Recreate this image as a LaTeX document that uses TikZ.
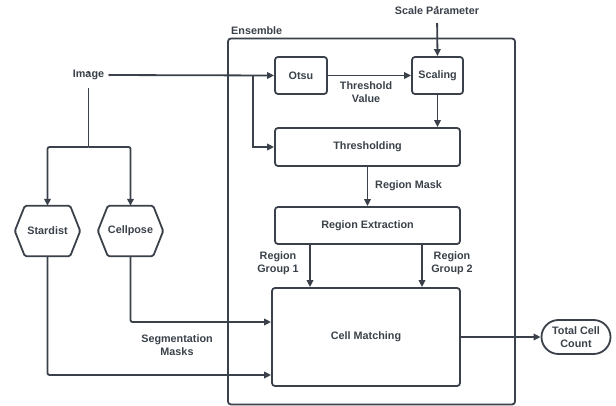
\documentclass[tikz,border=0pt]{standalone}
\usepackage{fontspec}
\setmainfont{Liberation Sans}
\usetikzlibrary{arrows.meta,calc}
\definecolor{ink}{HTML}{3A414A}
\begin{document}
\begin{tikzpicture}[x=1pt,y=-1pt,
  font=\fontsize{10.8}{13}\selectfont\bfseries, text=ink,
  box/.style={draw=ink, line width=1.8pt, rounded corners=3pt, align=center, inner sep=0pt},
  conn/.style={draw=ink, line width=1.8pt, -{Triangle[length=7pt,width=6.5pt]}},
  plain/.style={draw=ink, line width=1.8pt},
  lbl/.style={align=center, inner sep=0pt}]
\useasboundingbox (0,0) rectangle (616,406);

% container
\node[box, minimum width=287pt, minimum height=366pt] (ens) at (371.5,221.5) {};
\node[lbl, anchor=south west] (enslbl) at (231,35) {Ensemble};

% boxes
\node[box, minimum width=52pt, minimum height=37pt] (otsu) at (301,75.5) {Otsu};
\node[box, minimum width=51pt, minimum height=37pt] (scal) at (437.5,75.5) {Scaling};
\node[box, minimum width=185pt, minimum height=38pt] (thr) at (367.5,147) {Thresholding};
\node[box, minimum width=185pt, minimum height=37pt] (rex) at (367.5,225.5) {Region Extraction};
\node[box, minimum width=188pt, minimum height=98pt] (cm) at (366,337) {Cell Matching};
\node[box, rounded corners=17pt, minimum width=69pt, minimum height=34pt] (tcc) at (576,337) {Total Cell\\Count};

% hexagons
\node[minimum width=65pt, minimum height=50pt, inner sep=0pt] (sd) at (47.5,231) {Stardist};
\node[minimum width=65pt, minimum height=50pt, inner sep=0pt] (cp) at (130.5,231) {Cellpose};
\foreach \h in {sd,cp}{
  \draw[plain, rounded corners=1.5pt] (\h.west) -- ([xshift=10pt]\h.north west) -- ([xshift=-10pt]\h.north east)
    -- (\h.east) -- ([xshift=-10pt]\h.south east) -- ([xshift=10pt]\h.south west) -- cycle;
}

% inputs / labels
\node[lbl] (img) at (88.5,75) {Image};
\node[lbl] (sp) at (437,11) {Scale Parameter};
\node[lbl] (tv) at (366,92.5) {Threshold\\Value};
\node[lbl, anchor=west] (rm) at (375,186) {Region Mask};
\node[lbl] (rg1) at (278,263.5) {Region\\Group 1};
\node[lbl] (rg2) at (452,263.5) {Region\\Group 2};
\node[lbl] (sm) at (177,345.5) {Segmentation\\Masks};

% helper coordinates
\coordinate (br1) at (253,76);
\coordinate (split) at (88.5,147);
\coordinate (g1) at (310,0);
\coordinate (g2) at (422,0);
\coordinate (ycp) at (0,322);
\coordinate (ysd) at (0,375);

% connectors
\draw[conn, shorten <=5pt] (img.east) -- (otsu.west);
\fill[ink] ([xshift=5pt]img.east) circle (1.3pt);
\draw[conn] (br1) |- (thr.west);
\draw[conn, shorten <=8pt] (sp.south) -- (scal.north);
\fill[ink] ([yshift=8pt]sp.south) circle (1.3pt);
\draw[conn] (otsu.east) -- (scal.west);
\draw[conn] (scal.south) -- (scal.south |- thr.north);
\draw[conn] (thr.south) -- (thr.south |- rex.north);
\draw[conn] (rex.south -| g1) -- (cm.north -| g1);
\draw[conn] (rex.south -| g2) -- (cm.north -| g2);
\draw[plain, shorten <=8pt] (img.south) -- (split);
\fill[ink] ([yshift=8pt]img.south) circle (1.3pt);
\draw[conn, rounded corners=2pt] (split) -| (sd.north);
\draw[conn, rounded corners=2pt] (split) -| (cp.north);
\draw[conn, rounded corners=2pt] (cp.south) |- (ycp -| cm.west);
\draw[conn, rounded corners=2pt] (sd.south) |- (ysd -| cm.west);
\draw[conn] (cm.east) -- (tcc.west);
\end{tikzpicture}
\end{document}
